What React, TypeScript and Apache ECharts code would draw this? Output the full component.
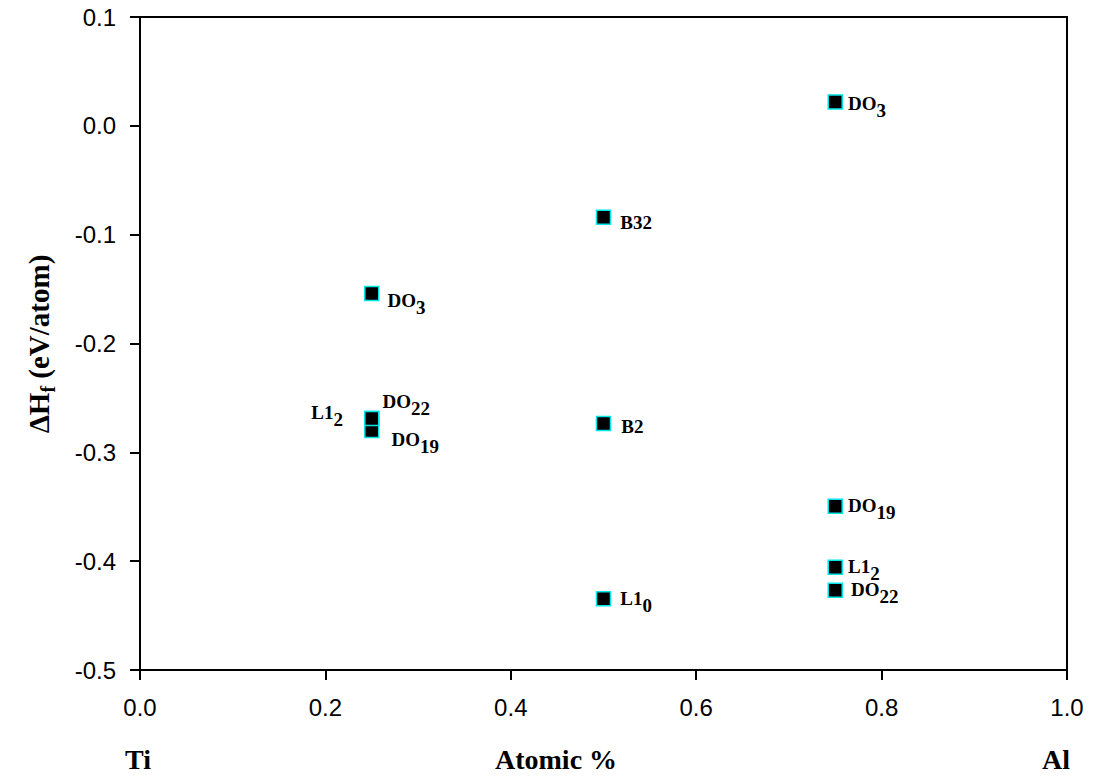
import React, { useEffect, useRef } from "react";
import * as echarts from "echarts";

// Formation enthalpy of Ti–Al structures vs. Al fraction
const fractions = [0.25, 0.25, 0.25, 0.25, 0.5, 0.5, 0.5, 0.75, 0.75, 0.75, 0.75];
const enthalpies = [-0.154, -0.269, -0.28, -0.269, -0.084, -0.2735, -0.4345, 0.022, -0.3495, -0.4055, -0.4267];
const phaseNames = ["DO", "DO", "DO", "L1", "B32", "B2", "L1", "DO", "DO", "L1", "DO"];
const phaseSubs = ["3", "22", "19", "2", "", "", "0", "3", "19", "2", "22"];

const xTicks = ["0.0", "0.2", "0.4", "0.6", "0.8", "1.0"];
const yTickLabels = ["-0.5", "-0.4", "-0.3", "-0.2", "-0.1", "0.0", "0.1"];

// label placement around each marker
const labelPlacement: { pos: string; off: [number, number] }[] = [
  { pos: "right", off: [3, 11] },
  { pos: "right", off: [-2, -14] },
  { pos: "right", off: [7, 12] },
  { pos: "left", off: [-16, -3] },
  { pos: "right", off: [4, 5] },
  { pos: "right", off: [5, 3] },
  { pos: "right", off: [4, 3] },
  { pos: "right", off: [0, 5] },
  { pos: "right", off: [0, 3] },
  { pos: "right", off: [0, 3] },
  { pos: "right", off: [3, 3] },
];

const serif = "'Liberation Serif', 'Times New Roman', serif";
const sans = "'Liberation Sans', Arial, Helvetica, sans-serif";

export default function App() {
  const ref = useRef<HTMLDivElement>(null);

  useEffect(() => {
    document.body.style.margin = "0";
    if (!ref.current) return;
    const chart = echarts.init(ref.current, undefined, { renderer: "svg" });

    const data = fractions.map((x, i) => ({
      value: [x, enthalpies[i]],
      label: {
        show: true,
        position: labelPlacement[i].pos,
        offset: labelPlacement[i].off,
        formatter: phaseSubs[i] ? `{n|${phaseNames[i]}}{s|${phaseSubs[i]}}` : `{n|${phaseNames[i]}}`,
      },
    }));

    const richText = {
      n: { fontFamily: serif, fontWeight: "bold", fontSize: 19, color: "#000", verticalAlign: "top" },
      s: { fontFamily: serif, fontWeight: "bold", fontSize: 19, color: "#000", verticalAlign: "top", padding: [7, 0, 0, 0] },
    };

    const titleStyle = { fontFamily: serif, fontWeight: "bold", fontSize: 28, fill: "#000", verticalAlign: "top" };

    chart.setOption({
      animation: false,
      backgroundColor: "#fff",
      grid: {
        left: 140,
        right: 28,
        top: 17,
        bottom: 112,
        show: true,
        borderColor: "#000",
        borderWidth: 2,
        backgroundColor: "transparent",
      },
      xAxis: {
        type: "value",
        min: 0,
        max: 1,
        interval: 0.2,
        axisLine: { show: true, onZero: false, lineStyle: { color: "#000", width: 2 } },
        axisTick: { show: true, inside: false, length: 10, lineStyle: { color: "#000", width: 2 } },
        axisLabel: {
          margin: 25,
          fontFamily: sans,
          fontSize: 24,
          color: "#000",
          formatter: (v: number) => xTicks[Math.round(v / 0.2)] ?? "",
        },
        splitLine: { show: false },
      },
      yAxis: {
        type: "value",
        min: -0.5,
        max: 0.1,
        interval: 0.1,
        axisLine: { show: true, onZero: false, lineStyle: { color: "#000", width: 2 } },
        axisTick: { show: true, inside: false, length: 10, lineStyle: { color: "#000", width: 2 } },
        axisLabel: {
          margin: 24,
          fontFamily: sans,
          fontSize: 24,
          color: "#000",
          formatter: (v: number) => yTickLabels[Math.round((v + 0.5) / 0.1)] ?? "",
        },
        splitLine: { show: false },
      },
      graphic: [
        {
          type: "text",
          x: 41,
          y: 344,
          rotation: Math.PI / 2,
          style: {
            text: "{a|ΔH}{b|f}{a| (eV/atom)}",
            align: "center",
            verticalAlign: "middle",
            rich: {
              a: { fontFamily: serif, fontWeight: "bold", fontSize: 29, color: "#000", verticalAlign: "top" },
              b: { fontFamily: serif, fontWeight: "bold", fontSize: 20, color: "#000", verticalAlign: "top", padding: [14, 0, 0, 0] },
            },
          },
        },
        { type: "text", x: 125, y: 745, style: { ...titleStyle, text: "Ti" } },
        { type: "text", x: 495, y: 745, style: { ...titleStyle, text: "Atomic %" } },
        { type: "text", x: 1042, y: 745, style: { ...titleStyle, text: "Al" } },
      ],
      series: [
        {
          type: "scatter",
          symbol: "rect",
          symbolSize: 14,
          itemStyle: { color: "#000", opacity: 1, borderColor: "#00e5e8", borderWidth: 1.5 },
          label: { show: true, distance: 5, rich: richText },
          data,
        },
      ],
    });

    return () => chart.dispose();
  }, []);

  return <div ref={ref} style={{ width: 1095, height: 782 }} />;
}
